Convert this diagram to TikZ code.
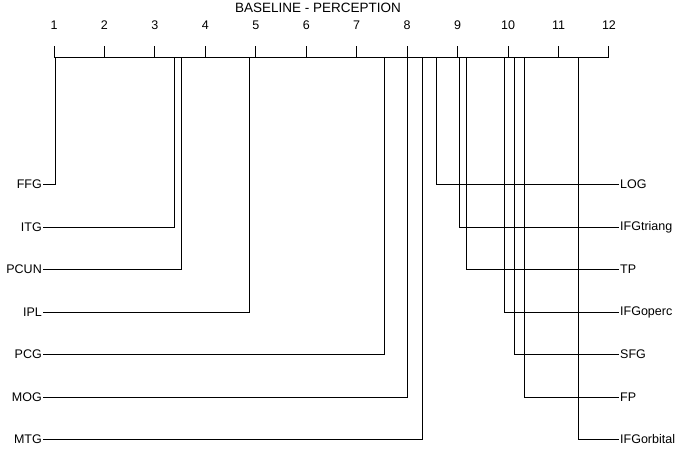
\documentclass[tikz,border=0pt]{standalone}
\usepackage{fontspec}
\setmainfont{Liberation Sans}
\begin{document}
\begin{tikzpicture}[x=1pt,y=-1pt,ln/.style={line width=1pt,black},lbl/.style={font=\fontsize{12.5}{14}\selectfont,inner sep=1pt}]
\useasboundingbox (0,0) rectangle (685,448);
\def\rx#1{54+50.45*(#1-1)}
\draw[ln] (54,57) -- (609,57);
\foreach \i in {1,...,12}{
  \draw[ln] ({\rx{\i}},46) -- ({\rx{\i}},57);
  \node[lbl] (t\i) at ({\rx{\i}},25) {\i};
}
\node[lbl,font=\fontsize{13.5}{15}\selectfont] (title) at (318,8) {BASELINE - PERCEPTION};
\foreach \n/\r/\y in {FFG/1.03/184,ITG/3.39/227,PCUN/3.52/269,IPL/4.88/312,PCG/7.55/354,MOG/8.0/397,MTG/8.3/439}{
  \node[lbl,anchor=east] (\n) at (43,\y) {\n};
  \coordinate (c\n) at ({\rx{\r}},57);
  \draw[ln] (c\n) |- (\n.east);
}
\foreach \n/\r/\y in {LOG/8.58/184,IFGtriang/9.03/227,TP/9.17/269,IFGoperc/9.93/312,SFG/10.13/354,FP/10.32/397,IFGorbital/11.4/439}{
  \node[lbl,anchor=west] (\n) at (619,\y) {\n};
  \coordinate (c\n) at ({\rx{\r}},57);
  \draw[ln] (c\n) |- (\n.west);
}
\end{tikzpicture}
\end{document}
